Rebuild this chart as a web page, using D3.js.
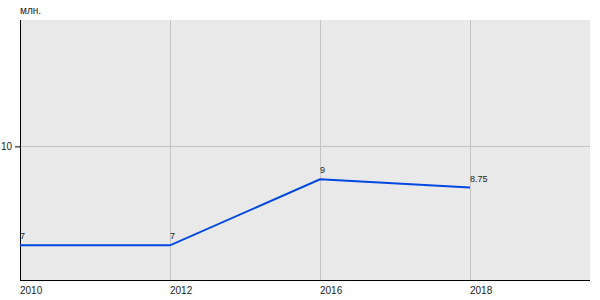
<!DOCTYPE html>
<html>
<head>
<meta charset="utf-8">
<script src="https://cdn.jsdelivr.net/npm/d3@7"></script>
<style>
  body { margin: 0; background: #fff; }
  text { font-family: "Liberation Sans", Arial, sans-serif; }
</style>
</head>
<body>
<div id="chart"></div>
<script>
// data
const years = ["2010", "2012", "2016", "2018"];
const values = [7, 7, 9, 8.75];
const valueLabels = ["7", "7", "9", "8.75"];
const yTicks = [10];
const unitLabel = "млн.";

const width = 600, height = 300;
const margin = { top: 20, right: 10, bottom: 20, left: 20 };

const svg = d3.select("#chart").append("svg")
  .attr("width", width)
  .attr("height", height);

// x positions by index, a bit of empty room after the last year
const x = d3.scaleLinear()
  .domain([0, 3.8])
  .range([margin.left, width - margin.right]);

const y = d3.scaleLinear()
  .domain([5.95, 13.83])
  .range([height - margin.bottom, margin.top]);

// plot background
svg.append("rect")
  .attr("x", margin.left)
  .attr("y", margin.top)
  .attr("width", width - margin.right - margin.left)
  .attr("height", height - margin.bottom - margin.top)
  .attr("fill", "#e9e9e9");

// grid
svg.selectAll(".vgrid")
  .data(years.slice(1))
  .join("line")
  .attr("class", "vgrid")
  .attr("x1", (d, i) => Math.round(x(i + 1)) + 0.5)
  .attr("x2", (d, i) => Math.round(x(i + 1)) + 0.5)
  .attr("y1", margin.top)
  .attr("y2", height - margin.bottom)
  .attr("stroke", "#c4c4c4");

svg.selectAll(".hgrid")
  .data(yTicks)
  .join("line")
  .attr("class", "hgrid")
  .attr("x1", margin.left)
  .attr("x2", width - margin.right)
  .attr("y1", d => Math.round(y(d)) + 0.5)
  .attr("y2", d => Math.round(y(d)) + 0.5)
  .attr("stroke", "#c4c4c4");

// axes
const yAxis = d3.axisLeft(y).tickValues(yTicks).tickSize(5).tickPadding(3);
const gy = svg.append("g")
  .attr("transform", `translate(${margin.left},0)`)
  .call(yAxis);
gy.select(".domain").attr("d", `M0.5,${margin.top}V${height - margin.bottom}`).attr("stroke", "#000");
gy.selectAll("text").attr("font-size", 10).attr("fill", "#222");

svg.append("line")
  .attr("x1", margin.left)
  .attr("x2", width - margin.right)
  .attr("y1", height - margin.bottom + 0.5)
  .attr("y2", height - margin.bottom + 0.5)
  .attr("stroke", "#000");

svg.selectAll(".xlab")
  .data(years)
  .join("text")
  .attr("class", "xlab")
  .attr("x", (d, i) => x(i))
  .attr("y", height - margin.bottom + 14)
  .attr("font-size", 10)
  .attr("fill", "#222")
  .text(d => d);

svg.append("text")
  .attr("x", margin.left)
  .attr("y", 14)
  .attr("font-size", 10)
  .attr("fill", "#222")
  .text(unitLabel);

// series
const line = d3.line()
  .x((d, i) => x(i))
  .y(d => y(d));

svg.append("path")
  .datum(values)
  .attr("d", line)
  .attr("fill", "none")
  .attr("stroke", "#0048e0")
  .attr("stroke-width", 2);

svg.selectAll(".vlab")
  .data(values)
  .join("text")
  .attr("class", "vlab")
  .attr("x", (d, i) => x(i))
  .attr("y", d => y(d) - 6)
  .attr("font-size", 9)
  .attr("fill", "#222")
  .text((d, i) => valueLabels[i]);
</script>
</body>
</html>
